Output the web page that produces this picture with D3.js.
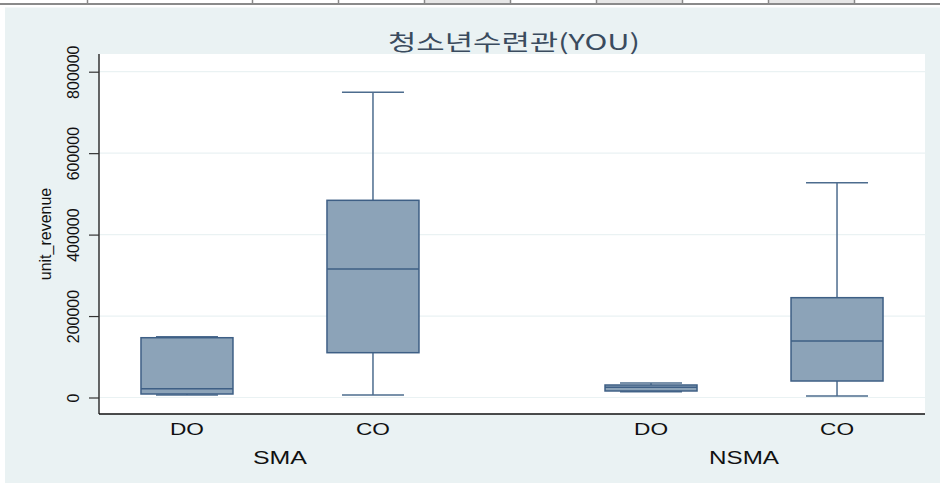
<!DOCTYPE html>
<html>
<head>
<meta charset="utf-8">
<script src="https://cdn.jsdelivr.net/npm/d3@7"></script>
<style>
  body { margin: 0; background: #fff; }
  svg { display: block; }
</style>
</head>
<body>
<div id="chart"></div>
<script>
/* DATA */
const groups = ["SMA", "NSMA"];
const categories = ["DO", "CO"];
// order: SMA-DO, SMA-CO, NSMA-DO, NSMA-CO
const boxKeys = [["SMA","DO"], ["SMA","CO"], ["NSMA","DO"], ["NSMA","CO"]];
const whiskerLow  = [6100,   6100,   14200, 3700];
const q1          = [8600,   110000, 16000, 40500];
const median      = [21600,  315500, 25000, 138700];
const q3          = [146800, 484200, 30700, 245100];
const whiskerHigh = [149300, 749400, 35600, 527400];
const yTicks = [0, 200000, 400000, 600000, 800000];
const title = "청소년수련관(YOU)";
const yTitle = "unit_revenue";

const boxes = boxKeys.map((k, i) => ({
  group: k[0], cat: k[1],
  lo: whiskerLow[i], q1: q1[i], med: median[i], q3: q3[i], hi: whiskerHigh[i]
}));

/* CONSTANTS */
const width = 940, height = 483;
const plot = {left: 99, right: 925, top: 54, bottom: 414};
const boxW = 92, capW = 62;
const fillCol = "#8ca3b8", lineCol = "#3e5f85", whiskCol = "#4d6c8e";
const font = "Liberation Sans, Arial, sans-serif";

const svg = d3.select("#chart").append("svg")
  .attr("width", width)
  .attr("height", height);

// top strip (spreadsheet header remnant)
const strip = svg.append("g");
[[424, 510], [596, 682], [768, 854]].forEach(c => {
  strip.append("rect").attr("x", c[0]).attr("y", 0).attr("width", c[1]-c[0]).attr("height", 4)
    .attr("fill", "#e6e6e6");
});
[87, 252, 338, 424, 510, 596, 682, 768, 854].forEach(x => {
  strip.append("line").attr("x1", x+0.5).attr("x2", x+0.5).attr("y1", 0).attr("y2", 4)
    .attr("stroke", "#888").attr("stroke-width", 1.5);
});
strip.append("line").attr("x1", 0).attr("x2", width).attr("y1", 4).attr("y2", 4)
  .attr("stroke", "#8a8a8a").attr("stroke-width", 2);

// background panel
svg.append("rect")
  .attr("x", 5).attr("y", 7.5).attr("width", width-5).attr("height", height-7.5)
  .attr("fill", "#eaf2f3");

// plot region
svg.append("rect")
  .attr("x", plot.left).attr("y", plot.top)
  .attr("width", plot.right-plot.left).attr("height", plot.bottom-plot.top)
  .attr("fill", "#fff");

/* SCALES */
const yScale = d3.scaleLinear()
  .domain([0, 800000])
  .range([397.5, 71.7]);

const xGroup = d3.scaleBand()
  .domain(groups)
  .range([plot.left, plot.right])
  .paddingInner(0.22)
  .paddingOuter(0);

const xCat = d3.scalePoint()
  .domain(categories)
  .range([0, xGroup.bandwidth()])
  .padding(0.473);

const xPos = d => xGroup(d.group) + xCat(d.cat);

/* GRID */
svg.selectAll("line.grid")
  .data(yTicks)
  .join("line")
  .attr("class", "grid")
  .attr("x1", plot.left).attr("x2", plot.right)
  .attr("y1", d => yScale(d)).attr("y2", d => yScale(d))
  .attr("stroke", "#eaf2f3")
  .attr("stroke-width", 1.2);

/* AXES */
const yAxis = svg.append("g")
  .attr("transform", `translate(${plot.left},0)`)
  .call(d3.axisLeft(yScale).tickValues(yTicks).tickSize(10).tickSizeOuter(0).tickFormat(d3.format("d")));
yAxis.select(".domain").remove();
yAxis.selectAll(".tick line").attr("stroke", "#333").attr("stroke-width", 1.2);
yAxis.selectAll(".tick text")
  .attr("transform", "rotate(-90)")
  .attr("x", 0).attr("y", -20)
  .attr("dy", 0)
  .attr("text-anchor", "middle")
  .attr("font-family", font)
  .attr("font-size", 16)
  .attr("fill", "#111");

svg.append("line")
  .attr("x1", plot.left).attr("x2", plot.left)
  .attr("y1", plot.top).attr("y2", plot.bottom)
  .attr("stroke", "#333").attr("stroke-width", 1.5);
svg.append("line")
  .attr("x1", plot.left).attr("x2", plot.right)
  .attr("y1", plot.bottom).attr("y2", plot.bottom)
  .attr("stroke", "#111").attr("stroke-width", 1.5);

svg.append("text")
  .attr("transform", `translate(51,${(plot.top+plot.bottom)/2}) rotate(-90)`)
  .attr("text-anchor", "middle")
  .attr("font-family", font)
  .attr("font-size", 16)
  .attr("fill", "#111")
  .text(yTitle);

// category labels
svg.selectAll("text.cat")
  .data(boxes)
  .join("text")
  .attr("class", "cat")
  .attr("x", d => xPos(d))
  .attr("y", 435)
  .attr("text-anchor", "middle")
  .attr("font-family", font)
  .attr("font-size", 17)
  .attr("textLength", 34)
  .attr("lengthAdjust", "spacingAndGlyphs")
  .attr("fill", "#111")
  .text(d => d.cat);

// group labels
svg.selectAll("text.grp")
  .data(groups)
  .join("text")
  .attr("class", "grp")
  .attr("x", d => xGroup(d) + xGroup.bandwidth()/2)
  .attr("y", 464)
  .attr("text-anchor", "middle")
  .attr("font-family", font)
  .attr("font-size", 19)
  .attr("textLength", d => d === "SMA" ? 54 : 70)
  .attr("lengthAdjust", "spacingAndGlyphs")
  .attr("fill", "#111")
  .text(d => d);

/* BOXES */
const bx = svg.selectAll("g.box")
  .data(boxes)
  .join("g")
  .attr("class", "box");

// whiskers
bx.append("line")
  .attr("x1", d => xPos(d)).attr("x2", d => xPos(d))
  .attr("y1", d => yScale(d.hi)).attr("y2", d => yScale(d.q3))
  .attr("stroke", whiskCol).attr("stroke-width", 1.5);
bx.append("line")
  .attr("x1", d => xPos(d)).attr("x2", d => xPos(d))
  .attr("y1", d => yScale(d.q1)).attr("y2", d => yScale(d.lo))
  .attr("stroke", whiskCol).attr("stroke-width", 1.5);
// caps
bx.append("line")
  .attr("x1", d => xPos(d) - capW/2).attr("x2", d => xPos(d) + capW/2)
  .attr("y1", d => yScale(d.hi)).attr("y2", d => yScale(d.hi))
  .attr("stroke", whiskCol).attr("stroke-width", 1.5);
bx.append("line")
  .attr("x1", d => xPos(d) - capW/2).attr("x2", d => xPos(d) + capW/2)
  .attr("y1", d => yScale(d.lo)).attr("y2", d => yScale(d.lo))
  .attr("stroke", whiskCol).attr("stroke-width", 1.5);
// box
bx.append("rect")
  .attr("x", d => xPos(d) - boxW/2)
  .attr("y", d => yScale(d.q3))
  .attr("width", boxW)
  .attr("height", d => yScale(d.q1) - yScale(d.q3))
  .attr("fill", fillCol)
  .attr("stroke", lineCol)
  .attr("stroke-width", 1.5);
// median
bx.append("line")
  .attr("x1", d => xPos(d) - boxW/2).attr("x2", d => xPos(d) + boxW/2)
  .attr("y1", d => yScale(d.med)).attr("y2", d => yScale(d.med))
  .attr("stroke", lineCol).attr("stroke-width", 1.5);

/* TITLE */
svg.append("text")
  .attr("x", 514)
  .attr("y", 50)
  .attr("text-anchor", "middle")
  .attr("font-family", "Noto Sans CJK KR, Liberation Sans, sans-serif")
  .attr("font-size", 22)
  .attr("textLength", 252)
  .attr("lengthAdjust", "spacingAndGlyphs")
  .attr("fill", "#3a4b5e")
  .text(title);
</script>
</body>
</html>
